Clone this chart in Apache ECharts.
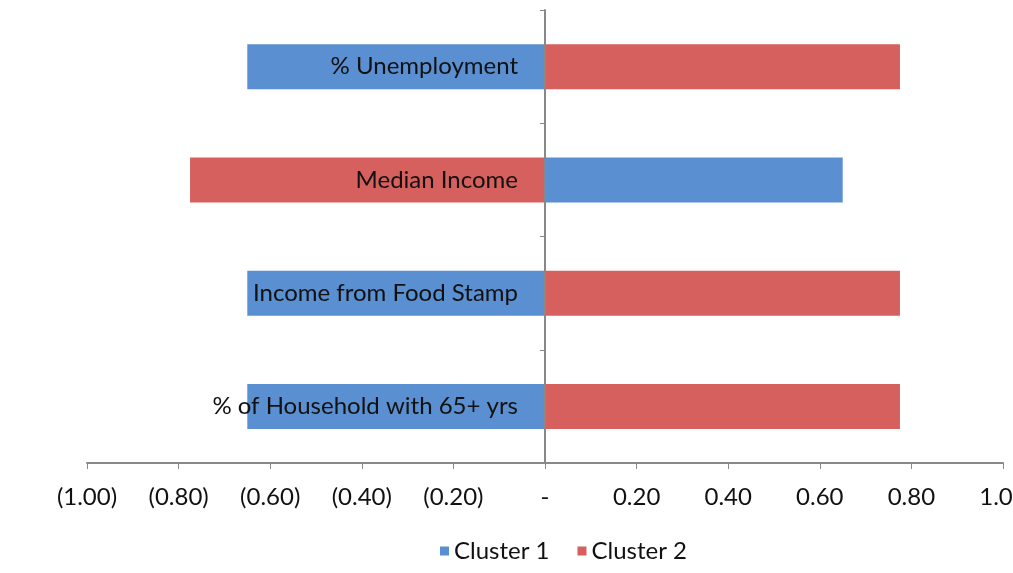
<!DOCTYPE html>
<html>
<head>
<meta charset="utf-8">
<title>Cluster chart</title>
<script src="https://cdn.jsdelivr.net/npm/echarts@6/dist/echarts.min.js"></script>
<style>
html, body { margin: 0; padding: 0; background: #fff; }
#chart { width: 1013px; height: 573px; }
</style>
</head>
<body>
<div id="chart"></div>
<script>
var categories = ['% Unemployment', 'Median Income', 'Income from Food Stamp', '% of Household with 65+ yrs'];
var cluster1 = [-0.65, 0.65, -0.65, -0.65];
var cluster2 = [0.775, -0.775, 0.775, 0.775];

var my_chart = echarts.init(document.getElementById('chart'));

function fmt(v)
{
	if (Math.abs(v) < 1e-9) return '-';
	if (v < 0) return '(' + Math.abs(v).toFixed(2) + ')';
	return v.toFixed(2);
}

// grid spans -1..1 over 916px, so zero sits 458px right of the left edge
var option = {
	animation: false,
	textStyle: { fontFamily: 'Lato', color: '#222' },
	grid: { left: 87, right: 10, top: 10, bottom: 110, containLabel: false, outerBoundsMode: 'none' },
	legend: {
		top: 534,
		left: 435,
		itemWidth: 9,
		itemHeight: 9,
		itemGap: 28,
		icon: 'rect',
		textStyle: { fontSize: 24, color: '#111', fontFamily: 'Lato' },
		data: ['Cluster 1', 'Cluster 2']
	},
	xAxis: {
		type: 'value',
		min: -1,
		max: 1,
		interval: 0.2,
		splitLine: { show: false },
		axisLine: { show: true, lineStyle: { color: '#888', width: 2 } },
		axisTick: { show: true, length: 6, lineStyle: { color: '#888' } },
		axisLabel: { formatter: fmt, fontSize: 24, color: '#111', margin: 22, fontFamily: 'Lato' }
	},
	yAxis: {
		type: 'category',
		inverse: true,
		data: categories,
		z: 10,
		offset: -458,
		axisLine: { show: true, onZero: false, lineStyle: { color: '#888', width: 2 } },
		axisTick: { show: true, length: 5, lineStyle: { color: '#888' } },
		axisLabel: { fontSize: 24, color: '#111', margin: 27, fontFamily: 'Lato' }
	},
	series: [{
		name: 'Cluster 1',
		type: 'bar',
		stack: 'all',
		barWidth: 45,
		itemStyle: { color: '#5a8fd1' },
		data: cluster1
	}, {
		name: 'Cluster 2',
		type: 'bar',
		stack: 'all',
		barWidth: 45,
		itemStyle: { color: '#d5605e' },
		data: cluster2
	}]
};

my_chart.setOption(option);
</script>
</body>
</html>
